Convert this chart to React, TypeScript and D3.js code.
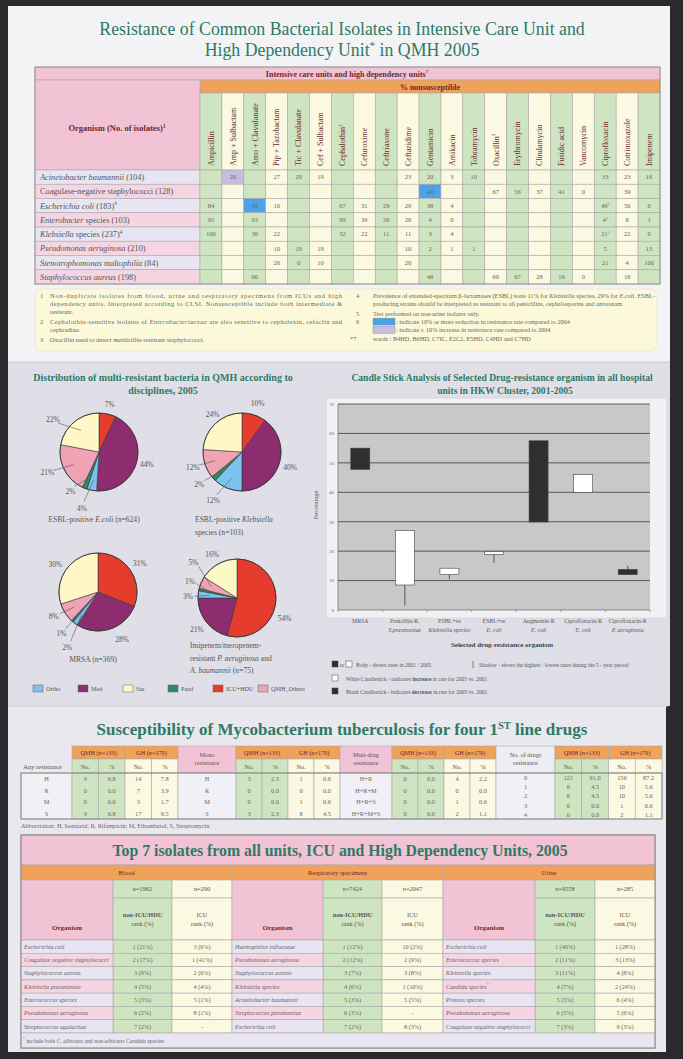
import React from "react";
import * as d3 from "d3";

// ================= DATA =================
const antibiotics = ["Ampicillin","Amp + Sulbactam","Amo + Clavulanate","Pip + Tazobactam","Tic + Clavulanate","Cef + Sulbactam","Cephalothin^2","Cefuroxime","Ceftriaxone","Ceftazidime","Gentamicin","Amikacin","Tobramycin","Oxacillin^3","Erythromycin","Clindamycin","Fusidic acid","Vancomycin","Ciprofloxacin","Cotrimoxazole","Imipenem"];
const organisms = ["*Acinetobacter baumannii* (104)","Coagulase-negative staphylococci (128)","*Escherichia coli* (183)^4","*Enterobacter* species (103)","*Klebsiella* species (237)^4","*Pseudomonas aeruginosa* (210)","*Stenotrophomonas maltophilia* (84)","*Staphylococcus aureus* (198)"];
const nonsusceptible = [
  ["","20","","27","29","19","","","","23","20","3","10","","","","","","33","23","16"],
  ["","","","","","","","","","","49","","","67","56","37","41","0","","39",""],
  ["84","","34","10","","","67","31","29","29","38","4","","","","","","","49^5","56","0"],
  ["95","","93","","","","99","39","26","26","4","0","","","","","","","4^5","8","1"],
  ["100","","30","22","","","32","22","11","11","3","4","","","","","","","21^5","22","0"],
  ["","","","10","19","19","","","","10","2","1","1","","","","","","5","","13"],
  ["","","","20","0","10","","","","20","","","","","","","","","21","4","100"],
  ["","","60","","","","","","","","48","","","60","67","28","16","0","","16",""],
];
const increasedCells = [[0, 1]];
const reducedCells = [[1, 10], [2, 2]];

const footLeft = [
  ["1", "Non-duplicate isolates from blood, urine and respiratory specimens from ICUs and high"],
  ["", "dependency units. Interpreted according to CLSI. Nonsusceptible include both intermediate &"],
  ["", "resistant."],
  ["2", "Cephalothin-sensitive isolates of *Enterobacteriaceae* are also sensitive to cephalexin, cefaclin and"],
  ["", "cephradine."],
  ["3", "Oxacillin used to detect methicillin-resistant staphylococci."],
];
const footRight = [
  ["4", "Prevalence of extended-spectrum β-lactamases (ESBL) were 11% for *Klebsiella* species, 29% for *E.coli*. ESBL-"],
  ["", "producing strains should be interpreted as resistant to all penicillins, cephalosporins and aztreonam"],
  ["5", "Test performed on non-urine isolates only."],
  ["6", "#blue: indicate 10% or more reduction in resistance rate compared to 2004"],
  ["", "#purple: indicate ≥ 10% increase in resistance rate compared to 2004"],
  ["*7", "wards : B4HD, B6HD, C7IC, E2C2, E5HD, C4HD and C7HD"],
];

const disciplines = ["Ortho", "Med", "Sur", "Paed", "ICU+HDU", "QMH_Others"];
const sliceOrder = ["ICU+HDU", "Med", "Ortho", "Paed", "QMH_Others", "Sur"];
const pieEcoli = [7, 44, 4, 2, 21, 22];
const pieKleb = [10, 40, 12, 2, 12, 24];
const pieMrsa = [31, 28, 2, 1, 8, 30];
const pieImip = [54, 21, 3, 1, 5, 16];
const pieCaptions = [
  ["ESBL-positive *E.coli* (n=624)"],
  ["ESBL-positive *Klebsiella*", "species (n=103)"],
  ["MRSA (n=369)"],
  ["Imipenem/meropenem-", "resistant *P. aeruginosa* and", "*A. baumannii* (n=75)"],
];

const candleCats = [["MRSA", ""], ["Penicillin-R.", "S.pneumoniae"], ["ESBL+ve", "Klebsiella species"], ["ESBL+ve", "E. coli"], ["Augmentin-R", "E. coli"], ["Ciprofloxacin-R", "E. coli"], ["Ciprofloxacin-R", "P. aeruginosa"]];
const rate2001 = [55, 8.5, 12, 18.9, 57.5, 40, 13.8];
const rate2005 = [47.8, 27, 14.2, 19.8, 29.9, 46, 12];
const rateHigh = [55, 27, 14.2, 19.8, 57.5, 46, 15];
const rateLow = [47.8, 1.5, 10.4, 16, 29.9, 40, 12];
const candleTicks = [0, 10, 20, 30, 40, 50, 60, 70];

const anyRes = ["H", "R", "M", "S"];
const anyQmhNo = ["9", "0", "0", "9"];
const anyQmhPct = ["6.8", "0.0", "0.0", "6.8"];
const anyGhNo = ["14", "7", "3", "17"];
const anyGhPct = ["7.8", "3.9", "1.7", "9.5"];
const monoRes = ["H", "R", "M", "S"];
const monoQmhNo = ["3", "0", "0", "3"];
const monoQmhPct = ["2.3", "0.0", "0.0", "2.3"];
const monoGhNo = ["1", "0", "1", "8"];
const monoGhPct = ["0.6", "0.0", "0.6", "4.5"];
const multiRes = ["H+R", "H+R+M", "H+R+S", "H+R+M+S"];
const multiQmhNo = ["0", "0", "0", "0"];
const multiQmhPct = ["0.0", "0.0", "0.0", "0.0"];
const multiGhNo = ["4", "0", "1", "2"];
const multiGhPct = ["2.2", "0.0", "0.6", "1.1"];
const drugCount = ["0", "1", "2", "3", "4"];
const drugQmhNo = ["121", "6", "6", "0", "0"];
const drugQmhPct = ["91.0", "4.5", "4.5", "0.0", "0.0"];
const drugGhNo = ["156", "10", "10", "1", "2"];
const drugGhPct = ["87.2", "5.6", "5.6", "0.6", "1.1"];

const specimens = ["Blood", "Respiratory specimens", "Urine"];
const specimenN = [["n=1962", "n=290"], ["n=7424", "n=2047"], ["n=9558", "n=285"]];
const bloodOrg = ["Escherichia coli", "Coagulase negative staphylococci", "Staphylococcus aureus", "Klebsiella pneumoniae", "Enterococcus species", "Pseudomonas aeruginosa", "Streptococcus agalactiae"];
const bloodNon = ["1 (21%)", "2 (17%)", "3 (9%)", "4 (5%)", "5 (3%)", "6 (2%)", "7 (2%)"];
const bloodIcu = ["3 (6%)", "1 (41%)", "2 (6%)", "4 (4%)", "5 (1%)", "8 (1%)", "-"];
const respOrg = ["Haemophilus influenzae", "Pseudomonas aeruginosa", "Staphylococcus aureus", "Klebsiella species", "Acinetobacter baumannii", "Streptococcus pneumoniae", "Escherichia coli"];
const respNon = ["1 (12%)", "2 (12%)", "3 (7%)", "4 (6%)", "5 (3%)", "6 (3%)", "7 (2%)"];
const respIcu = ["10 (2%)", "2 (9%)", "3 (8%)", "1 (10%)", "5 (5%)", "-", "8 (3%)"];
const urineOrg = ["Escherichia coli", "Enterococcus species", "Klebsiella species", "Candida species^*", "Proteus species", "Pseudomonas aeruginosa", "Coagulase negative staphylococci"];
const urineNon = ["1 (40%)", "2 (11%)", "3 (11%)", "4 (7%)", "5 (5%)", "6 (5%)", "7 (3%)"];
const urineIcu = ["1 (28%)", "3 (13%)", "4 (8%)", "2 (24%)", "6 (4%)", "5 (6%)", "9 (3%)"];

// ================= STYLE =================
const W = 683, H = 1059;
const SERIF = "'Liberation Serif', 'DejaVu Serif', serif";
const TEAL = "#2e7a65";
const MAROON = "#6b2a2f";
const PINK = "#f2c3d5";
const ORANGE = "#f0a15a";
const GREEN = "#cfe5c1";
const CREAM = "#fbf9e1";
const LAV = "#e8e4f1";
const ROWPINK = "#f5d5e2";
const GRID = "#a9a9a9";
const TXT = "#555";
const BLUEHL = "#4aa2ea";
const PURPLEHL = "#c5bde2";
const discColor: Record<string, string> = {
  Ortho: "#7cc4ee", Med: "#8e2c70", Sur: "#fdf8c6", Paed: "#2b8a68", "ICU+HDU": "#e63c2e", QMH_Others: "#f0a3b4",
};

// ================= HELPERS =================
function Rich(props: any) {
  const { text, x, y, size = 8, anchor = "start", fill = TXT, weight = "normal", italic = false, transform, textLength } = props;
  const parts = String(text).split(/(\*[^*]+\*|\^\S+)/).filter((p: string) => p.length > 0);
  let pending = 0;
  const nodes = parts.map((p: string, i: number) => {
    if (p.startsWith("^")) {
      const sh = size * 0.38;
      const dy = -sh + pending;
      pending = sh;
      return <tspan key={i} dy={dy} fontSize={size * 0.62}>{p.slice(1)}</tspan>;
    }
    const dy = pending;
    pending = 0;
    if (p.startsWith("*") && p.endsWith("*") && p.length > 2) {
      return <tspan key={i} dy={dy || undefined} fontStyle="italic">{p.slice(1, -1)}</tspan>;
    }
    return <tspan key={i} dy={dy || undefined}>{p}</tspan>;
  });
  return (
    <text x={x} y={y} fontSize={size} textAnchor={anchor} fill={fill} fontWeight={weight}
      fontStyle={italic ? "italic" : undefined} transform={transform}
      textLength={textLength} lengthAdjust={textLength ? "spacing" : undefined}>
      {nodes}
    </text>
  );
}

// ================= BACKGROUND =================
function Background() {
  return (
    <g>
      <rect x={0} y={0} width={W} height={H} fill="#2a2a2c" />
      <rect x={8} y={6} width={662} height={356} fill="#f3f3f6" />
      <rect x={8} y={362} width={662} height={344} fill="#e0dfe8" />
      <rect x={8} y={706} width={658} height={346} fill="#e9e8ef" />
      <line x1={8} x2={670} y1={362} y2={362} stroke="#c9c8d2" strokeWidth={1} />
      <line x1={8} x2={668} y1={706} y2={706} stroke="#cfcfd8" strokeWidth={1} />
    </g>
  );
}

// ================= TOP TABLE =================
function TopSection() {
  const x = d3.scaleBand<number>().domain(d3.range(antibiotics.length)).range([200, 660]);
  const y = d3.scaleBand<number>().domain(d3.range(organisms.length)).range([170, 284]);
  const cw = x.bandwidth(), rh = y.bandwidth();
  const colFill = (j: number) => (j % 2 === 0 ? GREEN : CREAM);
  const cellFill = (i: number, j: number) => {
    if (increasedCells.some(([r, c]) => r === i && c === j)) return PURPLEHL;
    if (reducedCells.some(([r, c]) => r === i && c === j)) return BLUEHL;
    return colFill(j);
  };
  return (
    <g>
      <Rich text="Resistance of Common Bacterial Isolates in Intensive Care Unit and" x={342} y={35} size={17.8} anchor="middle" fill={TEAL} />
      <Rich text="High Dependency Unit^* in QMH 2005" x={342} y={56} size={17.8} anchor="middle" fill={TEAL} />

      <rect x={35} y={67} width={625} height={13} fill={PINK} stroke={GRID} strokeWidth={0.6} />
      <Rich text="Intensive care units and high dependency units^7" x={347} y={76.5} size={8} weight="bold" anchor="middle" fill={MAROON} />
      <rect x={200} y={80} width={460} height={13} fill={ORANGE} stroke={GRID} strokeWidth={0.6} />
      <Rich text="% nonsusceptible" x={430} y={89.5} size={8} weight="bold" anchor="middle" fill={MAROON} />
      <rect x={35} y={80} width={165} height={90} fill={PINK} stroke={GRID} strokeWidth={0.6} />
      <Rich text="Organism (No. of isolates)^1" x={117} y={131} size={8.5} weight="bold" anchor="middle" fill={MAROON} />

      {antibiotics.map((a, j) => (
        <g key={a}>
          <rect x={x(j)} y={93} width={cw} height={77} fill={colFill(j)} stroke={GRID} strokeWidth={0.6} />
          <Rich text={a} x={0} y={0} size={8} fill={MAROON}
            transform={`translate(${(x(j) as number) + cw / 2 + 2.8},166) rotate(-90)`} />
        </g>
      ))}

      {organisms.map((o, i) => (
        <g key={o}>
          <rect x={35} y={y(i)} width={165} height={rh} fill={i % 2 === 0 ? LAV : ROWPINK} stroke={GRID} strokeWidth={0.6} />
          <Rich text={o} x={40} y={(y(i) as number) + rh / 2 + 3} size={8.3} fill={TXT} />
          {nonsusceptible[i].map((v, j) => (
            <g key={j}>
              <rect x={x(j)} y={y(i)} width={cw} height={rh} fill={cellFill(i, j)} stroke={GRID} strokeWidth={0.6} />
              {v !== "" && (
                <Rich text={v} x={(x(j) as number) + cw / 2} y={(y(i) as number) + rh / 2 + 2.3} size={6.5} anchor="middle" fill="#666" />
              )}
            </g>
          ))}
        </g>
      ))}
      <rect x={35} y={67} width={625} height={217} fill="none" stroke="#888" strokeWidth={0.8} />

      {/* footnotes */}
      <rect x={35} y={289} width={622} height={62} rx={7} fill="#fbf9d9" stroke="#e6e3c2" strokeWidth={0.6} />
      {footLeft.map(([n, t], i) => {
        const yy = 298 + i * 8.2 + (i >= 3 ? 1.5 : 0) + (i >= 5 ? 1.5 : 0);
        const full = i === 0 || i === 1 || i === 3;
        return (
          <g key={"fl" + i}>
            {n && <Rich text={n} x={40} y={yy} size={6.5} fill="#666" />}
            <Rich text={t} x={50} y={yy} size={6.5} fill="#666" textLength={full ? 292 : undefined} />
          </g>
        );
      })}
      {footRight.map(([n, t], i) => {
        const yy = 298 + i * 8.2 + (i >= 2 ? 1.5 : 0);
        const full = i === 0;
        const isBox = t.startsWith("#");
        const boxColor = t.startsWith("#blue") ? BLUEHL : PURPLEHL;
        const label = isBox ? t.replace(/^#\w+/, "") : t;
        return (
          <g key={"fr" + i}>
            {n && <Rich text={n} x={n.length > 1 ? 350 : 356} y={yy} size={6.3} fill="#666" />}
            {isBox && <rect x={373} y={yy - 6} width={22} height={7} fill={boxColor} stroke="#888" strokeWidth={0.4} />}
            <Rich text={label} x={isBox ? 396 : 373} y={yy} size={6.3} fill="#666" textLength={full ? 282 : undefined} />
          </g>
        );
      })}
    </g>
  );
}

// ================= PIES =================
const pieCenters = [[99, 452], [242, 452], [98, 592], [237, 598]];
const pieLabelLayout = [
  [[0, 1.25], [0, 1.27], [6, 1.5], [14, 1.25], [5, 1.43], [-15, 1.45]],
  [[0, 1.3], [0, 1.3], [9, 1.45], [6, 1.38], [1, 1.32], [5, 1.22]],
  [[0, 1.3], [-9, 1.36], [-7, 1.62], [0, 1.42], [3, 1.3], [-3, 1.3]],
  [[16, 1.33], [0, 1.3], [-3, 1.26], [7, 1.28], [16, 1.44], [-1, 1.28]],
];
const pieLeaders = [
  [false, false, true, true, true, true],
  [false, false, true, true, true, false],
  [false, false, true, true, true, false],
  [false, false, true, true, true, false],
];

function PieSection() {
  const r = 39;
  const pies = [pieEcoli, pieKleb, pieMrsa, pieImip];
  const pieGen = d3.pie<number>().sort(null).value((d) => d);
  const arc = d3.arc<d3.PieArcDatum<number>>().innerRadius(0).outerRadius(r);
  return (
    <g>
      <Rich text="Distribution of multi-resistant bacteria in QMH according to" x={163} y={381} size={10} weight="bold" anchor="middle" fill={TEAL} />
      <Rich text="disciplines, 2005" x={163} y={394} size={10} weight="bold" anchor="middle" fill={TEAL} />
      {pies.map((vals, pi) => {
        const [cx, cy] = pieCenters[pi];
        const arcs = pieGen(vals);
        return (
          <g key={pi}>
            <g transform={`translate(${cx},${cy})`}>
              {arcs.map((a, k) => (
                <path key={k} d={arc(a) as string} fill={discColor[sliceOrder[k]]} stroke="#3a3a3a" strokeWidth={0.6} />
              ))}
              <circle r={r} fill="none" stroke="#333" strokeWidth={0.8} />
            </g>
            {arcs.map((a, k) => {
              const mid = (a.startAngle + a.endAngle) / 2;
              const [dA, f] = pieLabelLayout[pi][k];
              const ang = mid + (dA * Math.PI) / 180;
              const lx = cx + Math.sin(ang) * r * f;
              const ly = cy - Math.cos(ang) * r * f;
              const inner = [cx + Math.sin(mid) * r * 0.72, cy - Math.cos(mid) * r * 0.72];
              const outer = [cx + Math.sin(ang) * r * (f - 0.17), cy - Math.cos(ang) * r * (f - 0.17)];
              return (
                <g key={"l" + k}>
                  {pieLeaders[pi][k] && (
                    <polyline points={`${inner[0]},${inner[1]} ${outer[0]},${outer[1]}`} fill="none" stroke="#555" strokeWidth={0.6} />
                  )}
                  <Rich text={`${vals[k]}%`} x={lx} y={ly + 2.6} size={7.5} anchor="middle" fill={TXT} />
                </g>
              );
            })}
          </g>
        );
      })}
      {pieCaptions.map((lines, pi) => {
        const [cx, cy] = pieCenters[pi];
        const leftAligned = pi % 2 === 1;
        return lines.map((ln, li) => (
          <Rich key={pi + "-" + li} text={ln} x={leftAligned ? cx - 47 : cx - 5} y={cy + 70 + li * 12.5 - (pi === 3 ? 20 : 0)}
            size={7.6} anchor={leftAligned ? "start" : "middle"} fill={TXT} />
        ));
      })}
      {disciplines.map((d, i) => {
        const lx = 33 + i * 45;
        return (
          <g key={d}>
            <rect x={lx} y={685} width={10} height={7} fill={discColor[d]} stroke="#666" strokeWidth={0.5} />
            <Rich text={d} x={lx + 13} y={691} size={6.2} fill={TXT} />
          </g>
        );
      })}
    </g>
  );
}

// ================= CANDLESTICK =================
function CandleSection() {
  const x = d3.scaleBand<number>().domain(d3.range(candleCats.length)).range([338, 650]);
  const y = d3.scaleLinear().domain([0, 70]).range([610, 404]);
  const bw = 19;
  return (
    <g>
      <Rich text="Candle Stick Analysis of Selected Drug-resistance organism in all hospital" x={502} y={381} size={9.6} weight="bold" anchor="middle" fill={TEAL} />
      <Rich text="units in HKW Cluster, 2001-2005" x={505} y={394} size={9.6} weight="bold" anchor="middle" fill={TEAL} />
      <rect x={326} y={398} width={341} height={220} fill="#f1f1f3" stroke="#cfcfd6" strokeWidth={0.6} />
      <rect x={338} y={y(70)} width={312} height={y(0) - y(70)} fill="#c8c8c9" />
      {candleTicks.map((t) => (
        <g key={t}>
          {t > 0 && <line x1={338} x2={650} y1={y(t)} y2={y(t)} stroke="#3a3a3a" strokeWidth={0.8} />}
          <Rich text={String(t)} x={334} y={y(t) + 1.8} size={5} anchor="end" fill="#666" />
        </g>
      ))}
      <line x1={338} x2={650} y1={y(0)} y2={y(0)} stroke="#555" strokeWidth={0.6} />
      <line x1={338} x2={338} y1={y(0)} y2={y(70)} stroke="#555" strokeWidth={0.6} />
      {d3.range(candleCats.length + 1).map((i) => {
        const xx = 338 + i * x.step();
        return <line key={"t" + i} x1={xx} x2={xx} y1={y(0)} y2={y(0) + 2} stroke="#555" strokeWidth={0.5} />;
      })}
      <Rich text="Percentage" x={0} y={0} size={6.5} anchor="middle" fill="#555" transform={`translate(318,505) rotate(-90)`} />
      {candleCats.map((c, i) => {
        const cx = (x(i) as number) + x.bandwidth() / 2;
        const o = rate2001[i], cl = rate2005[i];
        const up = cl > o;
        const top = Math.max(o, cl), bot = Math.min(o, cl);
        return (
          <g key={i}>
            <line x1={cx} x2={cx} y1={y(rateHigh[i])} y2={y(rateLow[i])} stroke="#555" strokeWidth={1} />
            <rect x={cx - bw / 2} y={y(top)} width={bw} height={Math.max(1, y(bot) - y(top))}
              fill={up ? "#ffffff" : "#2f2f2f"} stroke="#444" strokeWidth={0.6} />
            <Rich text={c[0]} x={cx} y={623} size={5.8} anchor="middle" fill="#555" />
            {c[1] && <Rich text={c[1]} x={cx} y={632} size={5.8} anchor="middle" fill="#555" italic />}
          </g>
        );
      })}
      <Rich text="Selected drug-resistance organism" x={502} y={647} size={7} weight="bold" anchor="middle" fill="#444" />

      <rect x={332} y={661} width={6} height={6} fill="#2f2f2f" stroke="#444" strokeWidth={0.5} />
      <Rich text="or" x={339.5} y={666.5} size={5.5} fill="#555" />
      <rect x={346} y={661} width={6} height={6} fill="#fff" stroke="#444" strokeWidth={0.5} />
      <Rich text="Body - shows rates in 2001 / 2005" x={356} y={666.5} size={5.5} fill="#555" />
      <line x1={473} x2={473} y1={661} y2={668} stroke="#555" strokeWidth={0.7} />
      <Rich text="Shadow - shows the highest / lowest rates during the 5 - year period" x={479} y={666.5} size={5.5} fill="#555" />
      <rect x={332} y={675} width={6} height={6} fill="#fff" stroke="#444" strokeWidth={0.5} />
      <text x={346} y={680.5} fontSize={5.5} fill="#555">White Candlestick - indicates <tspan fontWeight="bold">increase</tspan> in rate for 2005 vs. 2001</text>
      <rect x={332} y={688} width={6} height={6} fill="#2f2f2f" stroke="#444" strokeWidth={0.5} />
      <text x={346} y={693.5} fontSize={5.5} fill="#555">Black Candlestick - indicates <tspan fontWeight="bold">decrease</tspan> in rate for 2005 vs. 2001</text>
    </g>
  );
}

// ================= TB TABLE =================
const TB_HEAD_Y = 746, TB_SUB_Y = 759, TB_DATA_Y = 773, TB_END_Y = 819;
const tbBlocks = [
  { kind: "any", head: ["Any resistance"], labels: anyRes, cols: [anyQmhNo, anyQmhPct, anyGhNo, anyGhPct], x0: 21, x1: 72, x2: 178 },
  { kind: "pink", head: ["Mono", "resistance"], labels: monoRes, cols: [monoQmhNo, monoQmhPct, monoGhNo, monoGhPct], x0: 178, x1: 236, x2: 340 },
  { kind: "pink", head: ["Muti-drug", "resistance"], labels: multiRes, cols: [multiQmhNo, multiQmhPct, multiGhNo, multiGhPct], x0: 340, x1: 392, x2: 496 },
  { kind: "plain", head: ["No. of drugs", "resistance"], labels: drugCount, cols: [drugQmhNo, drugQmhPct, drugGhNo, drugGhPct], x0: 496, x1: 555, x2: 662 },
];

function TBSection() {
  return (
    <g>
      <Rich text="Susceptibility of Mycobacterium tuberculosis for four 1^ST line drugs" x={342} y={735} size={17} weight="bold" anchor="middle" fill={TEAL} />
      {tbBlocks.map((b, bi) => {
        const vx = d3.scaleBand<number>().domain(d3.range(4)).range([b.x1, b.x2]);
        const ry = d3.scaleBand<number>().domain(d3.range(b.labels.length)).range([TB_DATA_Y, TB_END_Y]);
        const cw = vx.bandwidth();
        const lc = (b.x0 + b.x1) / 2;
        return (
          <g key={bi}>
            {b.kind === "any" ? (
              <Rich text={b.head[0]} x={lc - 4} y={TB_SUB_Y + 10} size={6.5} anchor="middle" fill="#555" />
            ) : (
              <g>
                <rect x={b.x0} y={TB_HEAD_Y} width={b.x1 - b.x0} height={TB_DATA_Y - TB_HEAD_Y}
                  fill={b.kind === "pink" ? PINK : "#eeedf4"} stroke={GRID} strokeWidth={0.6} />
                {b.head.map((h, hi) => (
                  <Rich key={hi} text={h} x={lc} y={TB_HEAD_Y + 11 + hi * 7.5} size={6.3} anchor="middle" fill="#555" />
                ))}
              </g>
            )}
            {["QMH (n=133)", "GH (n=179)"].map((g, gi) => (
              <g key={g}>
                <rect x={vx(gi * 2)} y={TB_HEAD_Y} width={cw * 2} height={TB_SUB_Y - TB_HEAD_Y} fill={ORANGE} stroke={GRID} strokeWidth={0.6} />
                <Rich text={g} x={(vx(gi * 2) as number) + cw} y={TB_HEAD_Y + 9.2} size={6.2} anchor="middle" fill={MAROON} />
              </g>
            ))}
            {d3.range(4).map((c) => (
              <g key={"s" + c}>
                <rect x={vx(c)} y={TB_SUB_Y} width={cw} height={TB_DATA_Y - TB_SUB_Y} fill={c < 2 ? GREEN : CREAM} stroke={GRID} strokeWidth={0.6} />
                <Rich text={c % 2 === 0 ? "No." : "%"} x={(vx(c) as number) + cw / 2} y={TB_SUB_Y + 10} size={6.2} anchor="middle" fill="#555" />
              </g>
            ))}
            <rect x={b.x0} y={TB_DATA_Y} width={b.x1 - b.x0} height={TB_END_Y - TB_DATA_Y} fill="#f1f0f6" stroke={GRID} strokeWidth={0.6} />
            {d3.range(4).map((c) => (
              <rect key={"c" + c} x={vx(c)} y={TB_DATA_Y} width={cw} height={TB_END_Y - TB_DATA_Y} fill={c < 2 ? GREEN : CREAM} stroke={GRID} strokeWidth={0.6} />
            ))}
            {b.labels.map((l, li) => {
              const yy = (ry(li) as number) + ry.bandwidth() / 2 + 2.3;
              return (
                <g key={"r" + li}>
                  <Rich text={l} x={lc} y={yy} size={6.3} anchor="middle" fill="#666" />
                  {b.cols.map((col, c) => (
                    <Rich key={c} text={col[li]} x={(vx(c) as number) + cw / 2} y={yy} size={6.3} anchor="middle" fill="#666" />
                  ))}
                </g>
              );
            })}
          </g>
        );
      })}
      <rect x={21} y={TB_DATA_Y} width={641} height={TB_END_Y - TB_DATA_Y} fill="none" stroke="#777" strokeWidth={0.8} />
      <Rich text="Abbreviation: H, Isoniazid; R, Rifampicin; M, Ethambutol; S, Streptomycin" x={21} y={828} size={6.2} fill="#666" />
    </g>
  );
}

// ================= TOP 7 TABLE =================
const T7 = { x0: 21, x1: 655, top: 835, titleB: 865, grpB: 880, nB: 898, headB: 940, rowsB: 1033, bottom: 1048 };
const t7Groups = [
  { org: bloodOrg, non: bloodNon, icu: bloodIcu, x0: 21, x1: 113, x2: 172, x3: 232 },
  { org: respOrg, non: respNon, icu: respIcu, x0: 232, x1: 323, x2: 382, x3: 443 },
  { org: urineOrg, non: urineNon, icu: urineIcu, x0: 443, x1: 535, x2: 595, x3: 655 },
];

function Top7Section() {
  const ry = d3.scaleBand<number>().domain(d3.range(7)).range([T7.headB, T7.rowsB]);
  const rh = ry.bandwidth();
  return (
    <g>
      <rect x={T7.x0} y={T7.top} width={T7.x1 - T7.x0} height={T7.bottom - T7.top} fill="#e7e4f0" stroke="#888" strokeWidth={0.8} />
      <rect x={T7.x0} y={T7.top} width={T7.x1 - T7.x0} height={T7.titleB - T7.top} fill={PINK} stroke="#999" strokeWidth={0.6} />
      <Rich text="Top 7 isolates from all units, ICU and High Dependency Units, 2005" x={340} y={(T7.top + T7.titleB) / 2 + 5.5} size={15.8} weight="bold" anchor="middle" fill={TEAL} />
      {t7Groups.map((g, gi) => (
        <g key={gi}>
          <rect x={g.x0} y={T7.titleB} width={g.x3 - g.x0} height={T7.grpB - T7.titleB} fill={ORANGE} stroke={GRID} strokeWidth={0.6} />
          <Rich text={specimens[gi]} x={(g.x0 + g.x3) / 2} y={T7.titleB + 10} size={6.5} anchor="middle" fill={MAROON} />
          <rect x={g.x0} y={T7.grpB} width={g.x1 - g.x0} height={T7.headB - T7.grpB} fill={PINK} stroke={GRID} strokeWidth={0.6} />
          <Rich text="Organism" x={(g.x0 + g.x1) / 2} y={T7.headB - 10} size={7} weight="bold" anchor="middle" fill={MAROON} />
          {[0, 1].map((c) => {
            const a = c === 0 ? g.x1 : g.x2, b = c === 0 ? g.x2 : g.x3;
            const f = c === 0 ? GREEN : CREAM;
            const mid = (a + b) / 2;
            return (
              <g key={c}>
                <rect x={a} y={T7.grpB} width={b - a} height={T7.nB - T7.grpB} fill={f} stroke={GRID} strokeWidth={0.6} />
                <Rich text={specimenN[gi][c]} x={mid} y={(T7.grpB + T7.nB) / 2 + 2.3} size={6.3} anchor="middle" fill="#555" />
                <rect x={a} y={T7.nB} width={b - a} height={T7.headB - T7.nB} fill={f} stroke={GRID} strokeWidth={0.6} />
                <Rich text={c === 0 ? "non-ICU/HDU" : "ICU"} x={mid} y={(T7.nB + T7.headB) / 2 - 2} size={6.3} anchor="middle" fill="#555" weight={c === 0 ? "bold" : "normal"} />
                <Rich text="rank (%)" x={mid} y={(T7.nB + T7.headB) / 2 + 6.5} size={6.3} anchor="middle" fill="#555" />
                {d3.range(7).map((ri) => (
                  <g key={ri}>
                    <rect x={a} y={ry(ri)} width={b - a} height={rh} fill={f} stroke={GRID} strokeWidth={0.6} />
                    <Rich text={(c === 0 ? g.non : g.icu)[ri]} x={mid} y={(ry(ri) as number) + rh / 2 + 2.2} size={6.2} anchor="middle" fill="#666" />
                  </g>
                ))}
              </g>
            );
          })}
          {g.org.map((o, ri) => (
            <g key={"o" + ri}>
              <rect x={g.x0} y={ry(ri)} width={g.x1 - g.x0} height={rh} fill={ri % 2 === 0 ? LAV : ROWPINK} stroke={GRID} strokeWidth={0.6} />
              <Rich text={o} x={g.x0 + 3} y={(ry(ri) as number) + rh / 2 + 2.2} size={6.2} italic fill="#666" />
            </g>
          ))}
        </g>
      ))}
      <rect x={T7.x0} y={T7.rowsB} width={T7.x1 - T7.x0} height={T7.bottom - T7.rowsB} fill="#e9e6f2" stroke={GRID} strokeWidth={0.6} />
      <Rich text="^* include both *C. albicans* and non-*albicans Candida* species" x={23} y={T7.rowsB + 9.5} size={5.8} fill="#666" />
      <rect x={T7.x0} y={T7.top} width={T7.x1 - T7.x0} height={T7.bottom - T7.top} fill="none" stroke="#888" strokeWidth={0.8} />
    </g>
  );
}

export default function App() {
  return (
    <svg width={W} height={H} viewBox={`0 0 ${W} ${H}`} style={{ position: "absolute", left: 0, top: 0, display: "block" }} fontFamily={SERIF}>
      <Background />
      <TopSection />
      <PieSection />
      <CandleSection />
      <TBSection />
      <Top7Section />
    </svg>
  );
}
